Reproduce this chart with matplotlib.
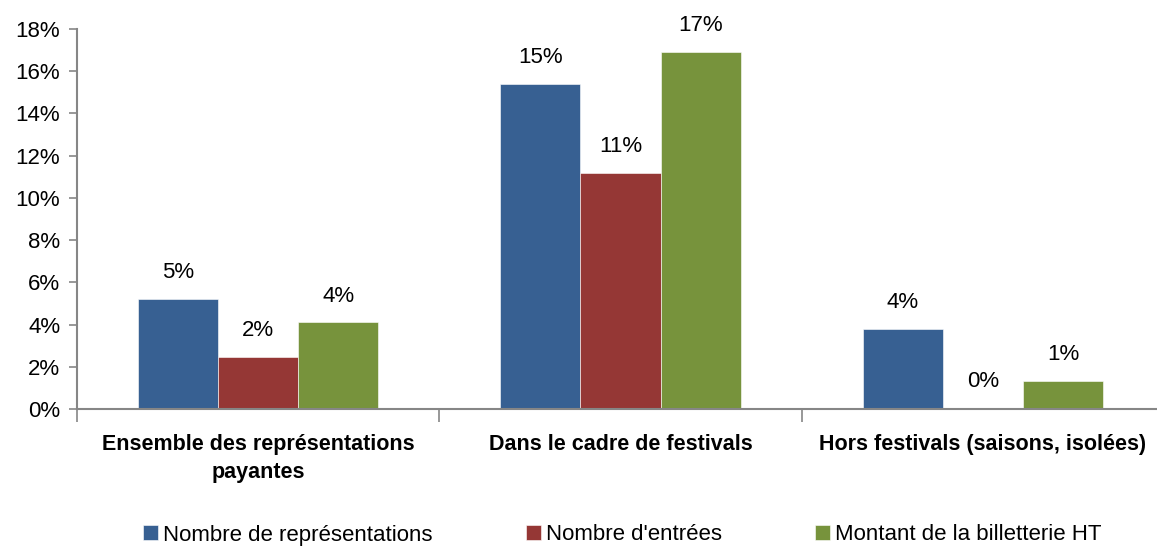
import numpy as np
import matplotlib
matplotlib.use("Agg")
import matplotlib.pyplot as plt
from matplotlib.ticker import FixedLocator, FuncFormatter

plt.rcParams['font.family'] = ['Liberation Sans', 'DejaVu Sans']

categories = ["Ensemble des représentations\npayantes",
              "Dans le cadre de festivals",
              "Hors festivals (saisons, isolées)"]
series_names = ["Nombre de représentations", "Nombre d'entrées", "Montant de la billetterie HT"]
representations = [5.2, 15.4, 3.8]
entrees = [2.45, 11.2, 0.05]
billetterie = [4.1, 16.9, 1.35]
colors = ["#376092", "#953735", "#77933C"]

fig = plt.figure(figsize=(11.57, 5.48), dpi=100)
ax = fig.add_axes([77/1157, 139/548, (1164-77)/1157, 380/548])

x = np.arange(len(categories))
w = 0.221
for i, (vals, name, c) in enumerate(zip([representations, entrees, billetterie], series_names, colors)):
    pos = x + (i - 1) * w
    ax.bar(pos, vals, width=w, color=c, edgecolor='white', linewidth=0.4, label=name)
    for p, v in zip(pos, vals):
        ax.text(p, v + 0.75, f"{round(v):.0f}%", ha='center', va='bottom', fontsize=16)

ax.set_xlim(-0.5, 2.5)
ax.set_ylim(0, 18)
ax.set_yticks(np.arange(0, 19, 2))
ax.yaxis.set_major_formatter(FuncFormatter(lambda v, p: f"{v:.0f}%"))
ax.tick_params(axis='y', labelsize=16, length=6, color='#868686', width=1.2, pad=6)

ax.set_xticks(x)
ax.set_xticklabels(categories, fontsize=15.5, fontweight='bold', linespacing=1.45)
ax.tick_params(axis='x', which='major', length=0, pad=18)
ax.xaxis.set_minor_locator(FixedLocator([-0.5, 0.5, 1.5, 2.5]))
ax.tick_params(axis='x', which='minor', length=9, color='#868686', width=1.2)

for s in ['top', 'right']:
    ax.spines[s].set_visible(False)
for s in ['left', 'bottom']:
    ax.spines[s].set_color('#868686')
    ax.spines[s].set_linewidth(1.5)

fig.legend(loc='center', bbox_to_anchor=(622/1157, 13/548), ncol=3, frameon=False,
           fontsize=16, handlelength=0.68, handleheight=0.68, handletextpad=0.22, columnspacing=4.2)

fig.savefig("out.png", dpi=100)
